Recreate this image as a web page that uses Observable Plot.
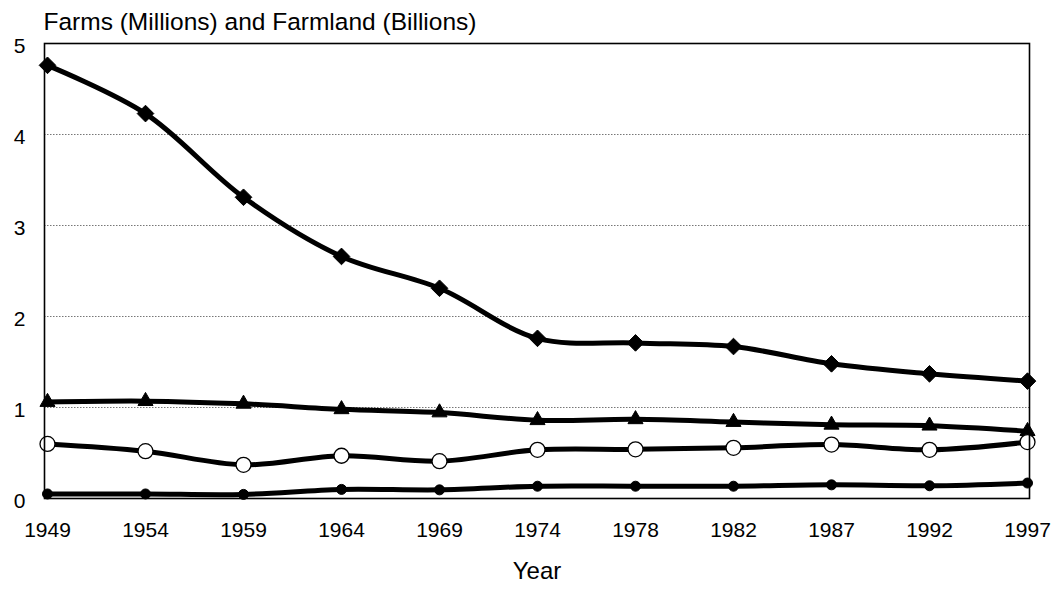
<!DOCTYPE html>
<html>
<head>
<meta charset="utf-8">
<script src="https://cdn.jsdelivr.net/npm/d3@7"></script>
<script src="https://cdn.jsdelivr.net/npm/@observablehq/plot@0.6"></script>
<style>
  html, body { margin: 0; padding: 0; background: #fff; }
  #chart svg { display: block; }
</style>
</head>
<body>
<div id="chart"></div>
<script>
const years = ["1949","1954","1959","1964","1969","1974","1978","1982","1987","1992","1997"];
const farms = [4.76, 4.23, 3.31, 2.66, 2.31, 1.76, 1.71, 1.67, 1.48, 1.37, 1.29];
const farmland = [1.06, 1.07, 1.04, 0.98, 0.945, 0.86, 0.87, 0.84, 0.81, 0.80, 0.74];
const openSeries = [0.60, 0.52, 0.37, 0.47, 0.41, 0.535, 0.54, 0.557, 0.593, 0.535, 0.62];
const smallSeries = [0.05, 0.05, 0.045, 0.10, 0.095, 0.135, 0.135, 0.135, 0.15, 0.14, 0.17];
const yTicks = [0, 1, 2, 3, 4, 5];
const gridValues = [1, 2, 3, 4];
const titleText = "Farms (Millions) and Farmland (Billions)";
const xTitle = "Year";

const toRows = (vals) => years.map((y, i) => ({year: y, value: vals[i]}));
const rFarms = toRows(farms);
const rLand = toRows(farmland);
const rOpen = toRows(openSeries);
const rSmall = toRows(smallSeries);

const font = "'Liberation Sans', Arial, Helvetica, sans-serif";
const lineOpts = {x: "year", y: "value", stroke: "black", strokeWidth: 5, curve: "catmull-rom"};

const chart = Plot.plot({
  width: 1058,
  height: 594,
  marginLeft: 44,
  marginRight: 29,
  marginTop: 43,
  marginBottom: 96,
  style: {fontFamily: font, fontSize: "21px", color: "black", background: "white"},
  x: {type: "point", domain: years, padding: 0, label: null},
  y: {domain: [0, 5], label: null},
  marks: [
    Plot.ruleY(gridValues, {stroke: "#777", strokeWidth: 1, strokeDasharray: "1.5,1.5"}),
    Plot.axisX({tickSize: 0, tickPadding: 24, fontSize: 21, label: null}),
    Plot.axisY(yTicks, {tickSize: 0, tickPadding: 19, fontSize: 21, dy: 3, tickFormat: "d", label: null}),
    Plot.line(rFarms, lineOpts),
    Plot.line(rLand, lineOpts),
    Plot.line(rOpen, lineOpts),
    Plot.line(rSmall, lineOpts),
    Plot.dot(rFarms, {x: "year", y: "value", symbol: "diamond2", r: 7.5, fill: "black", stroke: "black", strokeWidth: 1}),
    Plot.dot(rLand, {x: "year", y: "value", symbol: "triangle", r: 5.6, fill: "black", stroke: "black", strokeWidth: 1}),
    Plot.dot(rOpen, {x: "year", y: "value", symbol: "circle", r: 7.5, fill: "white", stroke: "black", strokeWidth: 1.3}),
    Plot.dot(rSmall, {x: "year", y: "value", symbol: "circle", r: 5, fill: "black", stroke: "black", strokeWidth: 1}),
    Plot.frame({stroke: "black", strokeWidth: 1.6}),
    Plot.text([titleText], {frameAnchor: "top-left", dx: -1, dy: -31, textAnchor: "start", fontSize: 24.5, fill: "black"}),
    Plot.text([xTitle], {frameAnchor: "bottom", dy: 80, fontSize: 24, fill: "black"})
  ]
});
document.getElementById("chart").appendChild(chart);
</script>
</body>
</html>
